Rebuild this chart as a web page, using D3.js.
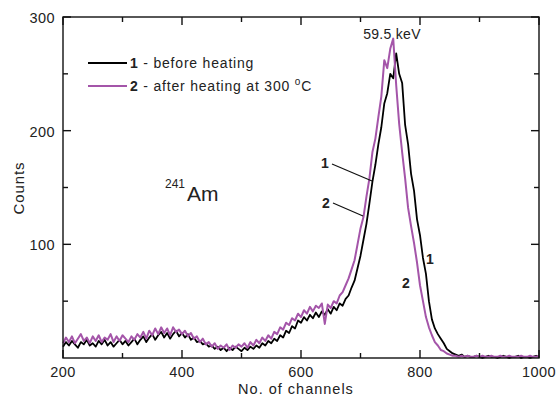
<!DOCTYPE html>
<html>
<head>
<meta charset="utf-8">
<script src="https://cdn.jsdelivr.net/npm/d3@7"></script>
<style>
  body { margin: 0; background: #fff; }
  svg text { font-family: "Liberation Sans", Arial, sans-serif; fill: #222; }
</style>
</head>
<body>
<svg id="chart" width="558" height="397"></svg>
<script>
// channels 200..1000, step 5
const chStart = 200, chStep = 5;

// 1 - before heating
const before = [
  10,14,11,15,12,9,14,12,16,11,13,10,15,12,16,11,14,10,13,16,
  12,15,11,14,17,12,16,19,14,18,21,16,20,23,18,22,17,21,24,19,
  22,18,21,16,18,14,15,12,13,10,11,8,10,7,9,6,9,7,10,8,
  6,9,7,10,8,11,9,13,11,15,13,17,15,20,18,24,22,28,26,33,
  31,36,33,38,35,40,36,41,38,43,39,45,42,48,46,52,55,62,68,79,
  90,104,118,136,155,170,188,203,224,233,250,246,268,250,242,205,188,162,147,122,
  108,88,74,50,34,26,21,17,13,8,6,4,3,2,3,1,2,1,1,2,
  1,0,1,2,1,1,0,1,2,1,0,1,1,2,0,1,1,0,1,2,
  1
];

// 2 - after heating at 300 C
const after = [
  13,18,14,19,13,17,21,15,18,13,19,15,20,14,18,16,21,14,19,15,
  20,17,14,19,16,21,18,23,17,24,20,26,21,27,22,26,20,27,23,25,
  21,24,19,22,17,19,14,17,12,14,10,13,8,11,9,12,7,11,9,12,
  10,13,9,14,11,16,13,18,15,20,17,23,21,27,25,31,29,35,33,39,
  36,42,39,45,41,46,44,48,30,47,44,50,48,55,58,64,70,78,86,100,
  114,124,142,158,181,193,212,230,262,255,272,281,240,206,181,158,132,116,101,84,
  64,50,36,27,20,14,11,7,6,4,3,2,2,1,2,1,2,1,1,2,
  1,2,1,1,2,1,1,2,1,1,2,1,1,1,2,1,1,2,1,1,
  2
];

const xMajor = [200, 400, 600, 800, 1000];
const xMinor = [300, 500, 700, 900];
const yMajor = [100, 200, 300];
const yMinor = [50, 150, 250];

const svg = d3.select('#chart');
const mLeft = 63, mRight = 539, mTop = 17, mBottom = 358;

const x = d3.scaleLinear().domain([200, 1000]).range([mLeft, mRight]);
const y = d3.scaleLinear().domain([0, 300]).range([mBottom, mTop]);

const line = d3.line()
  .x((d, i) => x(chStart + i * chStep))
  .y(d => y(d));

svg.append('path').datum(before)
  .attr('d', line)
  .attr('fill', 'none')
  .attr('stroke', '#000')
  .attr('stroke-width', 1.8)
  .attr('stroke-linejoin', 'round');

svg.append('path').datum(after)
  .attr('d', line)
  .attr('fill', 'none')
  .attr('stroke', '#a455a9')
  .attr('stroke-width', 2)
  .attr('stroke-linejoin', 'round');

// frame
svg.append('rect')
  .attr('x', mLeft).attr('y', mTop)
  .attr('width', mRight - mLeft).attr('height', mBottom - mTop)
  .attr('fill', 'none').attr('stroke', '#111').attr('stroke-width', 1.4);

// ticks inward, mirrored on top/right
const g = svg.append('g').attr('stroke', '#111').attr('stroke-width', 1.4);
function xt(vals, len) {
  vals.forEach(v => {
    g.append('line').attr('x1', x(v)).attr('x2', x(v)).attr('y1', mBottom).attr('y2', mBottom - len);
    g.append('line').attr('x1', x(v)).attr('x2', x(v)).attr('y1', mTop).attr('y2', mTop + len);
  });
}
function yt(vals, len) {
  vals.forEach(v => {
    g.append('line').attr('y1', y(v)).attr('y2', y(v)).attr('x1', mLeft).attr('x2', mLeft + len);
    g.append('line').attr('y1', y(v)).attr('y2', y(v)).attr('x1', mRight).attr('x2', mRight - len);
  });
}
xt(xMajor, 8); xt(xMinor, 5);
yt(yMajor, 8); yt(yMinor, 5);

xMajor.forEach(v => {
  svg.append('text').attr('x', x(v)).attr('y', 377)
    .attr('text-anchor', 'middle').attr('font-size', 14.5).attr('letter-spacing', 0.4).text(v);
});
yMajor.forEach(v => {
  svg.append('text').attr('x', 55).attr('y', y(v) + 6)
    .attr('text-anchor', 'end').attr('font-size', 14.5).attr('letter-spacing', 0.4).text(v);
});

svg.append('text').attr('x', 296).attr('y', 394)
  .attr('text-anchor', 'middle').attr('font-size', 14.5).attr('letter-spacing', 1).text('No. of channels');
svg.append('text').attr('transform', 'translate(24,188) rotate(-90)')
  .attr('text-anchor', 'middle').attr('font-size', 15).attr('letter-spacing', 0.9).text('Counts');

// legend
svg.append('line').attr('x1', 88).attr('x2', 127).attr('y1', 63).attr('y2', 63)
  .attr('stroke', '#000').attr('stroke-width', 1.8);
svg.append('line').attr('x1', 88).attr('x2', 127).attr('y1', 86).attr('y2', 86)
  .attr('stroke', '#a455a9').attr('stroke-width', 2);
const l1 = svg.append('text').attr('x', 130).attr('y', 68).attr('font-size', 14).attr('letter-spacing', 0.8);
l1.append('tspan').attr('font-weight', 'bold').text('1');
l1.append('tspan').text(' - before heating');
const l2 = svg.append('text').attr('x', 130).attr('y', 91).attr('font-size', 14).attr('letter-spacing', 0.8);
l2.append('tspan').attr('font-weight', 'bold').text('2');
l2.append('tspan').text(' - after heating at 300 ');
l2.append('tspan').attr('font-size', 10).attr('dy', -6).text('o');
l2.append('tspan').attr('dy', 6).text('C');

// annotations
svg.append('text').attr('x', 392).attr('y', 39)
  .attr('text-anchor', 'middle').attr('font-size', 14).attr('letter-spacing', 0.3).text('59.5 keV');
svg.append('text').attr('x', 165).attr('y', 188).attr('font-size', 12).text('241');
svg.append('text').attr('x', 187).attr('y', 201).attr('font-size', 21).text('Am');

const ann = [
  { t: '1', tx: 325, ty: 168, l: [332, 164, 372, 181] },
  { t: '2', tx: 326, ty: 208, l: [333, 203, 363, 216] },
  { t: '1', tx: 430, ty: 264 },
  { t: '2', tx: 406, ty: 288 }
];
ann.forEach(a => {
  svg.append('text').attr('x', a.tx).attr('y', a.ty).attr('text-anchor', 'middle')
    .attr('font-size', 14).attr('font-weight', 'bold').text(a.t);
  if (a.l) {
    svg.append('line').attr('x1', a.l[0]).attr('y1', a.l[1]).attr('x2', a.l[2]).attr('y2', a.l[3])
      .attr('stroke', '#111').attr('stroke-width', 1.2);
  }
});
</script>
</body>
</html>
